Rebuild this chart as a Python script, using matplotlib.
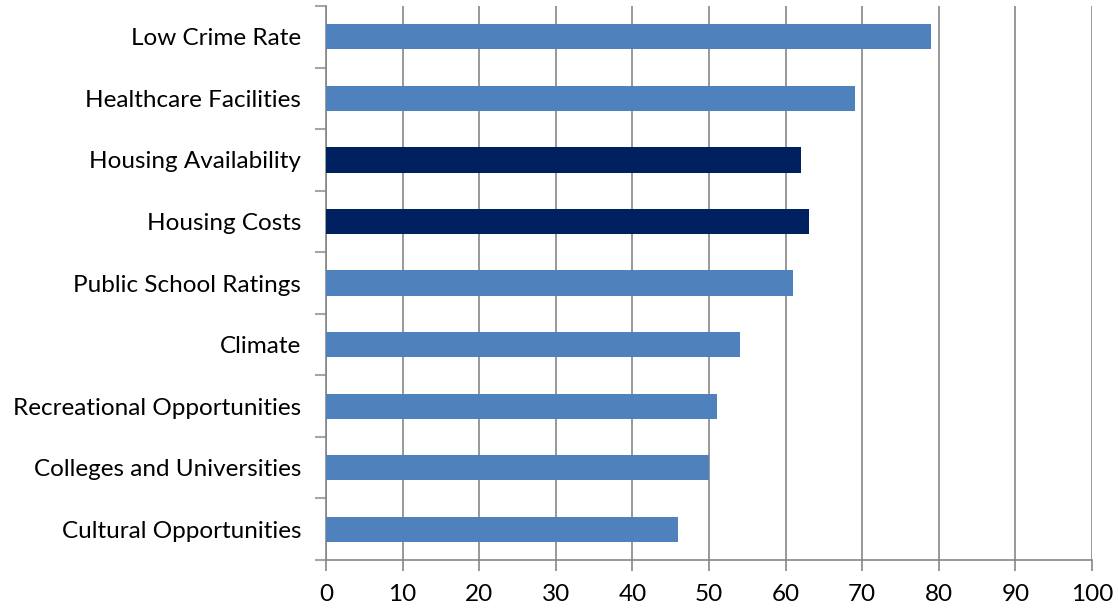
import matplotlib
matplotlib.use("Agg")
import matplotlib.pyplot as plt
import numpy as np

categories = [
    "Low Crime Rate",
    "Healthcare Facilities",
    "Housing Availability",
    "Housing Costs",
    "Public School Ratings",
    "Climate",
    "Recreational Opportunities",
    "Colleges and Universities",
    "Cultural Opportunities",
]
values = [79, 69, 62, 63, 61, 54, 51, 50, 46]
highlight = [False, False, True, True, False, False, False, False, False]
x_ticks = list(range(0, 101, 10))

plt.rcParams["font.family"] = ["Lato", "DejaVu Sans"]

fig = plt.figure(figsize=(11.18, 6.11), dpi=100)
ax = fig.add_axes([0.2916, 0.0835, 0.6851, 0.9065])

n = len(categories)
y = np.arange(n)[::-1]
colors = ["#002060" if h else "#4F81BD" for h in highlight]
ax.barh(y, values, height=0.41, color=colors, zorder=3)

ax.set_xlim(0, 100)
ax.set_ylim(-0.5, n - 0.5)
ax.set_xticks(x_ticks)
ax.set_xticklabels([str(t) for t in x_ticks], fontsize=17.5)

# category labels sit at bar centres, tick marks at category boundaries
ax.set_yticks(y)
ax.set_yticklabels(categories, fontsize=17.5)
ax.tick_params(axis="y", which="major", length=0, pad=18)
ax.set_yticks(np.arange(-0.5, n, 1.0), minor=True)
ax.tick_params(axis="y", which="minor", length=8, width=1.5, color="#A6A6A6")
ax.tick_params(axis="x", length=8, width=1.2, color="#868686", pad=9)

ax.grid(axis="x", color="#868686", linewidth=1.2, zorder=0)
for side in ["top", "right"]:
    ax.spines[side].set_visible(False)
ax.spines["left"].set_color("#868686")
ax.spines["bottom"].set_color("#868686")
ax.spines["left"].set_linewidth(1.2)
ax.spines["bottom"].set_linewidth(1.2)

fig.savefig("out.png", dpi=100)
